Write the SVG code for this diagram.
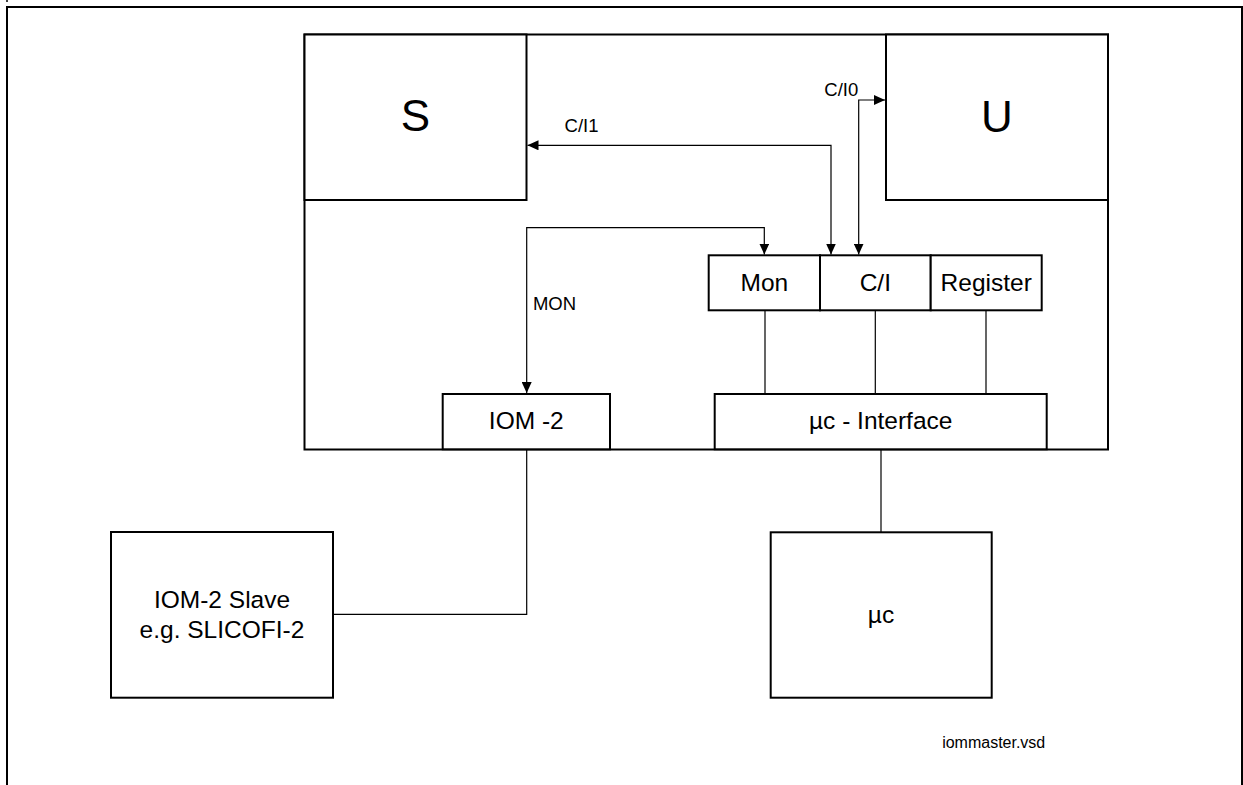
<svg xmlns="http://www.w3.org/2000/svg" width="1243" height="785" viewBox="0 0 1243 785">
<style>
.box{fill:#fff;stroke:#000;stroke-width:2}
.frame{fill:none;stroke:#000;stroke-width:2}
.ln{fill:none;stroke:#000;stroke-width:1.2}
.arr{fill:none;stroke:#000;stroke-width:1.2;marker-start:url(#ah);marker-end:url(#ah)}
text{font-family:"Liberation Sans",Arial,sans-serif;fill:#000;text-anchor:middle}
.big{font-size:44px}
.mid{font-size:24.5px}
.sm{font-size:18.5px}
.tiny{font-size:16px}
</style>
<defs>
<marker id="ah" viewBox="0 0 11 10" refX="11" refY="5" markerWidth="11" markerHeight="10" markerUnits="userSpaceOnUse" orient="auto-start-reverse">
<path d="M0,0 L11,5 L0,10 Z" fill="#000"/>
</marker>
</defs>
<rect width="1243" height="785" fill="#fff"/>
<circle cx="7" cy="1" r="1" fill="#000"/>
<path class="frame" d="M7,786 V7 H1242 V786"/>
<g id="main"><rect class="box" x="304.5" y="34.5" width="803.5" height="415"/></g>
<g id="S"><rect class="box" x="304.5" y="34.5" width="222" height="165.5"/><text class="big" x="415.5" y="131">S</text></g>
<g id="U"><rect class="box" x="886" y="34.5" width="222" height="165.5"/><text class="big" x="997" y="131.5">U</text></g>
<g id="Mon"><rect class="box" x="708.7" y="255.3" width="111.3" height="55"/><text class="mid" x="764.4" y="291">Mon</text></g>
<g id="CI"><rect class="box" x="820" y="255.3" width="110.7" height="55"/><text class="mid" x="875.3" y="291">C/I</text></g>
<g id="Register"><rect class="box" x="930.7" y="255.3" width="111" height="55"/><text class="mid" x="986.2" y="291">Register</text></g>
<g id="Interface"><rect class="box" x="714.7" y="394" width="332" height="55.3"/><text class="mid" x="880.7" y="428.5">µc - Interface</text></g>
<g id="IOM2"><rect class="box" x="442.7" y="394" width="167.3" height="55.3"/><text class="mid" x="526.3" y="428.5">IOM -2</text></g>
<g id="Slave"><rect class="box" x="111" y="532" width="222" height="165.7"/><text class="mid" x="222" y="608.3">IOM-2 Slave</text><text class="mid" x="222" y="638.3">e.g. SLICOFI-2</text></g>
<g id="uc"><rect class="box" x="770.7" y="532.3" width="221" height="165.4"/><text class="mid" x="881" y="623.3">µc</text></g>
<g id="connectors">
<path class="arr" d="M831,254.5 V145.3 H527.5"/>
<path class="arr" d="M858.7,254.5 V100 H885"/>
<path class="arr" d="M764.3,254.5 V227.7 H526.7 V393"/>
<path class="ln" d="M765,310.3 V394 M875.3,310.3 V394 M986,310.3 V394"/>
<path class="ln" d="M881,449.3 V532.3"/>
<path class="ln" d="M526.7,449.3 V614.3 H333"/>
</g>
<g id="labels">
<text class="sm" x="581.5" y="132">C/I1</text>
<text class="sm" x="841.3" y="95.7">C/I0</text>
<text class="sm" x="554.5" y="310">MON</text>
<text class="tiny" x="993.7" y="748.3">iommaster.vsd</text>
</g>
</svg>
